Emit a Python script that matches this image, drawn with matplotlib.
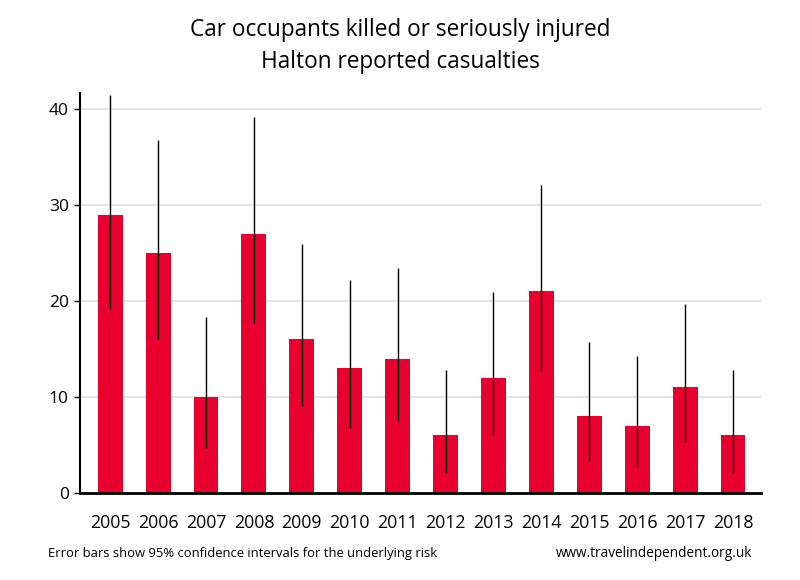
import matplotlib
matplotlib.use("Agg")
import matplotlib.pyplot as plt
import numpy as np

years = ["2005", "2006", "2007", "2008", "2009", "2010", "2011",
         "2012", "2013", "2014", "2015", "2016", "2017", "2018"]
values = [29, 25, 10, 27, 16, 13, 14, 6, 12, 21, 8, 7, 11, 6]
ci_low = [19.2, 16.0, 4.7, 17.7, 9.0, 6.8, 7.5, 2.05, 6.0, 12.7, 3.3, 2.7, 5.3, 2.05]
ci_high = [41.5, 36.8, 18.3, 39.2, 25.9, 22.2, 23.4, 12.8, 20.9, 32.1, 15.7, 14.3, 19.7, 12.8]
yticks = [0, 10, 20, 30, 40]

plt.rcParams['font.family'] = ['Open Sans', 'DejaVu Sans']

fig = plt.figure(figsize=(8, 5.8), dpi=100)
ax = fig.add_axes([0.1, 0.1505, 0.851, 0.6892])

x = np.arange(len(years))
ax.bar(x, values, width=0.52, color="#E8002F", zorder=2)
ax.vlines(x, ci_low, ci_high, color="black", linewidth=1, zorder=3)

ax.set_xlim(-0.63, len(years) - 1 + 0.58)
ax.set_ylim(0, 41.7)
ax.set_yticks(yticks)
ax.set_yticklabels([str(t) for t in yticks], fontsize=12.5)
ax.set_xticks(x)
ax.set_xticklabels(years, fontsize=12.8)
ax.tick_params(axis='x', length=0, pad=15)
ax.tick_params(axis='y', length=4, width=1, pad=4, direction='out')
ax.grid(axis='y', color="#e6e6e6", linewidth=1.5, zorder=0)
ax.set_axisbelow(True)
for s in ["top", "right"]:
    ax.spines[s].set_visible(False)
ax.spines["left"].set_linewidth(1.5)
ax.spines["bottom"].set_linewidth(2)

fig.text(0.5, 0.948, "Car occupants killed or seriously injured", ha="center", va="center", fontsize=16.3)
fig.text(0.5, 0.893, "Halton reported casualties", ha="center", va="center", fontsize=16.3)

fig.text(0.06, 0.045, "Error bars show 95% confidence intervals for the underlying risk",
         ha="left", va="center", fontsize=9.4)
fig.text(0.94, 0.045, "www.travelindependent.org.uk",
         ha="right", va="center", fontsize=9.8)

fig.savefig("out.png", dpi=100)
